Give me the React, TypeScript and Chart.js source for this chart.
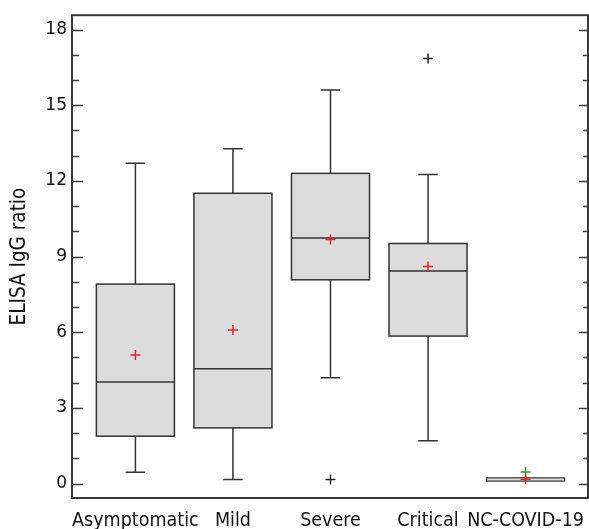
import React, { useEffect, useRef } from 'react';
import { Chart, registerables } from 'chart.js';

Chart.register(...registerables);

// ---- data ----
const categories = ['Asymptomatic', 'Mild', 'Severe', 'Critical', 'NC-COVID-19'];
const positions = [1, 2, 3, 4, 5];
const whiskerLow = [0.45, 0.16, 4.2, 1.7, 0.1];
const q1 = [1.88, 2.21, 8.08, 5.85, 0.1];
const median = [4.03, 4.55, 9.74, 8.43, 0.15];
const q3 = [7.91, 11.51, 12.3, 9.52, 0.23];
const whiskerHigh = [12.7, 13.28, 15.6, 12.25, 0.23];
const means = [5.1, 6.09, 9.68, 8.61, 0.17];
const outlierX = [3, 4];
const outlierY = [0.16, 16.85];
const farOutlierX = [5];
const farOutlierY = [0.46];
const yMajorTicks = [0, 3, 6, 9, 12, 15, 18];
const yMinorTicks = [1, 2, 4, 5, 7, 8, 10, 11, 13, 14, 16, 17];

const boxHalf = 0.4;
const capHalf = 0.1;

const boxPlugin = {
  id: 'boxes',
  beforeDatasetsDraw(chart: any) {
    const { ctx, scales } = chart;
    const x = scales.x;
    const y = scales.y;
    ctx.save();
    for (let i = 0; i < categories.length; i++) {
      const p = positions[i];
      const cx = x.getPixelForValue(p);
      const xl = x.getPixelForValue(p - boxHalf);
      const xr = x.getPixelForValue(p + boxHalf);
      const cl = x.getPixelForValue(p - capHalf);
      const cr = x.getPixelForValue(p + capHalf);
      const yq1 = y.getPixelForValue(q1[i]);
      const yq3 = y.getPixelForValue(q3[i]);
      const ymed = y.getPixelForValue(median[i]);
      const ylo = y.getPixelForValue(whiskerLow[i]);
      const yhi = y.getPixelForValue(whiskerHigh[i]);
      ctx.strokeStyle = '#333333';
      ctx.lineWidth = 1.5;
      // whiskers
      ctx.beginPath();
      if (whiskerHigh[i] > q3[i]) {
        ctx.moveTo(cx, yq3);
        ctx.lineTo(cx, yhi);
        ctx.moveTo(cl, yhi);
        ctx.lineTo(cr, yhi);
      }
      if (whiskerLow[i] < q1[i]) {
        ctx.moveTo(cx, yq1);
        ctx.lineTo(cx, ylo);
        ctx.moveTo(cl, ylo);
        ctx.lineTo(cr, ylo);
      }
      ctx.stroke();
      // box
      ctx.fillStyle = '#dcdcdc';
      ctx.fillRect(xl, yq3, xr - xl, yq1 - yq3);
      ctx.lineWidth = q3[i] - q1[i] < 0.5 ? 1.2 : 1.5;
      ctx.strokeRect(xl, yq3, xr - xl, yq1 - yq3);
      // median
      if (q3[i] - q1[i] >= 0.5) {
        ctx.beginPath();
        ctx.moveTo(xl, ymed);
        ctx.lineTo(xr, ymed);
        ctx.stroke();
      }
    }
    ctx.restore();
  },
  afterDraw(chart: any) {
    const { ctx, chartArea, scales } = chart;
    const y = scales.y;
    ctx.save();
    ctx.strokeStyle = '#3a3a3a';
    ctx.lineWidth = 2;
    ctx.strokeRect(chartArea.left, chartArea.top, chartArea.right - chartArea.left, chartArea.bottom - chartArea.top);
    ctx.lineWidth = 1.5;
    ctx.beginPath();
    for (const v of yMajorTicks) {
      const py = Math.round(y.getPixelForValue(v)) + 0.5;
      ctx.moveTo(chartArea.left, py);
      ctx.lineTo(chartArea.left + 11, py);
      ctx.moveTo(chartArea.right, py);
      ctx.lineTo(chartArea.right - 9, py);
    }
    for (const v of yMinorTicks) {
      const py = Math.round(y.getPixelForValue(v)) + 0.5;
      ctx.moveTo(chartArea.left, py);
      ctx.lineTo(chartArea.left + 7, py);
      ctx.moveTo(chartArea.right, py);
      ctx.lineTo(chartArea.right - 5, py);
    }
    ctx.stroke();
    ctx.restore();
  },
};

export default function App() {
  const ref = useRef<HTMLCanvasElement | null>(null);
  useEffect(() => {
    document.body.style.margin = '0';
    const canvas = ref.current;
    if (!canvas) return;
    const family = '"DejaVu Sans Condensed", "DejaVu Sans", sans-serif';
    const chart = new Chart(canvas, {
      type: 'scatter',
      data: {
        datasets: [
          {
            data: positions.map((p, i) => ({ x: p, y: means[i] })),
            pointStyle: 'cross',
            pointRadius: 5,
            borderColor: '#e3222b',
            borderWidth: 1.5,
          },
          {
            data: outlierX.map((p, i) => ({ x: p, y: outlierY[i] })),
            pointStyle: 'cross',
            pointRadius: 5,
            borderColor: '#222222',
            borderWidth: 1.5,
          },
          {
            data: farOutlierX.map((p, i) => ({ x: p, y: farOutlierY[i] })),
            pointStyle: 'cross',
            pointRadius: 5,
            borderColor: '#2a9a2a',
            borderWidth: 1.5,
          },
        ],
      },
      options: {
        animation: false,
        responsive: false,
        events: [],
        layout: { autoPadding: false, padding: { top: 14, right: 1, left: 0, bottom: 0 } },
        plugins: { legend: { display: false }, tooltip: { enabled: false } },
        scales: {
          x: {
            type: 'linear',
            min: 0.35,
            max: 5.64,
            grid: { display: false, drawTicks: false },
            border: { display: false },
            afterBuildTicks: (s: any) => {
              s.ticks = positions.map((v) => ({ value: v }));
            },
            afterFit: (s: any) => {
              s.height = 31;
              s.paddingLeft = 0;
              s.paddingRight = 0;
            },
            ticks: {
              autoSkip: false,
              maxRotation: 0,
              padding: 0,
              color: '#111',
              font: { family, size: 19.5, lineHeight: 2.33 },
              callback: (v: any) => categories[positions.indexOf(Number(v))] ?? '',
            },
          },
          y: {
            type: 'linear',
            min: -0.57,
            max: 18.57,
            grid: { display: false, drawTicks: false },
            border: { display: false },
            afterBuildTicks: (s: any) => {
              s.ticks = yMajorTicks.map((v) => ({ value: v }));
            },
            afterFit: (s: any) => {
              s.width = 72;
            },
            title: {
              display: true,
              text: 'ELISA IgG ratio',
              color: '#111',
              font: { family, size: 20.5 },
              padding: { top: 7, bottom: 0 },
            },
            ticks: {
              padding: 5,
              color: '#111',
              font: { family: '"DejaVu Sans", sans-serif', size: 17 },
            },
          },
        },
      },
      plugins: [boxPlugin],
    });
    return () => chart.destroy();
  }, []);
  return (
    <div style={{ width: 589, height: 529 }}>
      <canvas ref={ref} width={589} height={529} />
    </div>
  );
}
